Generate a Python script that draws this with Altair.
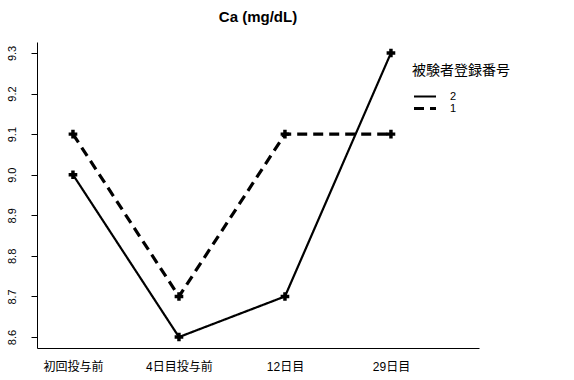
import altair as alt
import pandas as pd

# Serum calcium per visit for each enrolled subject
visits = ["初回投与前", "4日目投与前", "12日目", "29日目"]
subjects = ["2", "1"]
ca_subject2 = [9.0, 8.6, 8.7, 9.3]
ca_subject1 = [9.1, 8.7, 9.1, 9.1]

rows = []
for v, a, b in zip(visits, ca_subject2, ca_subject1):
    rows.append({"visit": v, "subject": "2", "ca": a})
    rows.append({"visit": v, "subject": "1", "ca": b})
df = pd.DataFrame(rows)

FONT = "Liberation Sans, Noto Sans CJK JP"

x = alt.X(
    "visit:O",
    sort=visits,
    title=None,
    scale=alt.Scale(type="point", padding=0.585, align=0.29),
    axis=alt.Axis(
        labelAngle=0, ticks=False, labelAlign="center", labelBaseline="top",
        labelPadding=13, labelFontSize=12, labelColor="black",
        domainColor="black", labelFont=FONT,
    ),
)
y = alt.Y(
    "ca:Q",
    title=None,
    scale=alt.Scale(domain=[8.573, 9.327], nice=False, zero=False),
    axis=alt.Axis(
        values=[8.6, 8.7, 8.8, 8.9, 9.0, 9.1, 9.2, 9.3], format=".1f",
        grid=False, labelAngle=270, labelAlign="center", labelBaseline="bottom",
        labelPadding=14, tickSize=6, tickColor="black", domainColor="black",
        labelColor="black", labelFontSize=11, labelFont=FONT,
    ),
)

lines = alt.Chart(df).mark_line(color="black").encode(
    x=x, y=y,
    detail="subject:N",
    strokeDash=alt.StrokeDash(
        "subject:N",
        scale=alt.Scale(domain=subjects, range=[[1, 0], [10, 6]]),
        legend=alt.Legend(
            title="被験者登録番号", orient="none", legendX=375, legendY=22,
            symbolType="stroke", symbolSize=484, symbolStrokeColor="black",
            symbolStrokeWidth=1.2, clipHeight=11,
            titleFontSize=14, titleFontWeight="normal",
            labelFontSize=11, titlePadding=13, rowPadding=0, labelOffset=12,
            titleFont=FONT, labelFont=FONT, titleColor="black", labelColor="black",
        ),
    ),
    strokeWidth=alt.StrokeWidth(
        "subject:N", scale=alt.Scale(domain=subjects, range=[2.2, 3.2]), legend=None
    ),
)

points = alt.Chart(df).mark_point(
    shape="cross", filled=True, color="black", size=75, opacity=1
).encode(x=x, y=y)

chart = (
    alt.layer(lines, points)
    .properties(
        width=442, height=306,
        background="white",
        title=alt.TitleParams("Ca (mg/dL)", fontSize=15, fontWeight="bold",
                              font=FONT, color="black", offset=17),
        autosize=alt.AutoSizeParams(type="none"),
        padding={"left": 37, "top": 42, "right": 95, "bottom": 32},
    )
    .configure_view(stroke="transparent", strokeWidth=0)
)

chart.save("out.html", embed_options={"renderer": "svg", "actions": False})
